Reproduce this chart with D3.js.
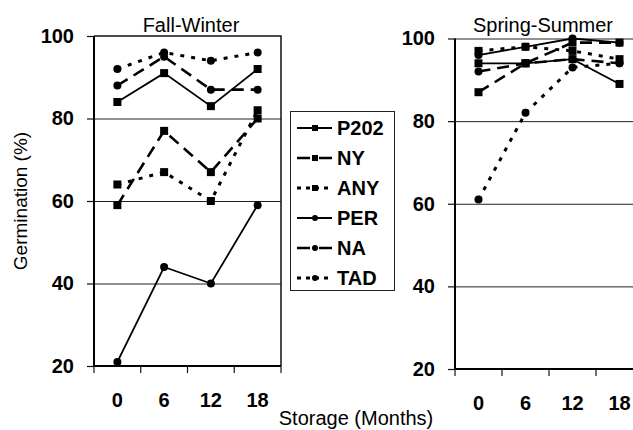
<!DOCTYPE html>
<html>
<head>
<meta charset="utf-8">
<script src="https://cdn.jsdelivr.net/npm/d3@7"></script>
<style>
  body { margin: 0; background: #fff; }
  svg { display: block; font-family: "Liberation Sans", Arial, sans-serif; }
  .tick text { font-weight: bold; font-size: 20px; fill: #000; }
  .domain { display: none; }
  .grid line { stroke: #222; stroke-width: 1; }
</style>
</head>
<body>
<svg id="chart" width="633" height="430"></svg>
<script>
// storage time categories (months)
var months = ["0", "6", "12", "18"];
var yTicks = [20, 40, 60, 80, 100];
var seriesNames = ["P202", "NY", "ANY", "PER", "NA", "TAD"];

// Fall-Winter germination (%)
var fallP202 = [84, 91, 83, 92];
var fallNY   = [59, 77, 67, 80];
var fallANY  = [64, 67, 60, 82];
var fallPER  = [21, 44, 40, 59];
var fallNA   = [88, 95, 87, 87];
var fallTAD  = [92, 96, 94, 96];

// Spring-Summer germination (%)
var springP202 = [94, 94, 95, 89];
var springNY   = [87, 94, 99, 99];
var springANY  = [97, 98, 97, 95];
var springPER  = [96, 98, 100, 99];
var springNA   = [92, 94, 95, 94];
var springTAD  = [61, 82, 93, 94];

// line look per series (legend uses its own dash so the sample reads like the original)
var styles = {
  P202: { marker: "square", dash: null,   legendDash: null,   width: 1.8 },
  NY:   { marker: "square", dash: "12,7", legendDash: "13,9", width: 2.6 },
  ANY:  { marker: "square", dash: "4,7",  legendDash: "4,5",  width: 3 },
  PER:  { marker: "circle", dash: null,   legendDash: null,   width: 1.8 },
  NA:   { marker: "circle", dash: "12,7", legendDash: "13,9", width: 2.6 },
  TAD:  { marker: "circle", dash: "4,7",  legendDash: "4,5",  width: 3 }
};

var svg = d3.select("#chart");

function drawMarker(g, kind, cx, cy, s) {
  if (kind == "square") {
    g.append("rect").attr("x", cx - s / 2).attr("y", cy - s / 2)
      .attr("width", s).attr("height", s).attr("fill", "#000");
  } else {
    g.append("circle").attr("cx", cx).attr("cy", cy).attr("r", s / 2).attr("fill", "#000");
  }
}

function drawPanel(p) {
  var x = d3.scaleBand().domain(months).range([p.left, p.right]);
  var y = d3.scaleLinear().domain([20, 100]).range([p.bottom, p.top]);
  var g = svg.append("g");

  // gridlines
  var gridVals = p.frame ? [40, 60, 80] : [40, 60, 80, 100];
  g.append("g").classed("grid", true)
    .attr("transform", "translate(" + p.left + ",0)")
    .call(d3.axisLeft(y).tickValues(gridVals).tickSize(-(p.right - p.left)).tickFormat(""));

  if (p.frame) {
    g.append("path")
      .attr("d", "M" + p.left + "," + y(100) + "H" + p.right + "V" + y(20))
      .attr("fill", "none").attr("stroke", "#111").attr("stroke-width", 1.5);
  }

  // y axis
  var ya = g.append("g").attr("transform", "translate(" + p.left + ",0)")
    .call(d3.axisLeft(y).tickValues(yTicks).tickSize(7).tickPadding(13));
  ya.selectAll(".tick line").attr("stroke", "#111").attr("stroke-width", 1.2);
  g.append("line").attr("x1", p.left).attr("x2", p.left)
    .attr("y1", y(100)).attr("y2", y(20)).attr("stroke", "#000").attr("stroke-width", 2);

  // x axis: labels at band centres, ticks at band edges
  g.append("g").attr("transform", "translate(0," + y(20) + ")")
    .call(d3.axisBottom(x).tickSize(0).tickPadding(27));
  g.append("line").attr("x1", p.left).attr("x2", p.right)
    .attr("y1", y(20)).attr("y2", y(20)).attr("stroke", "#000").attr("stroke-width", 2);
  var edges = months.map(function(m) { return x(m); }).concat([p.right]);
  g.selectAll(".xt").data(edges).enter().append("line")
    .attr("x1", function(d) { return d; }).attr("x2", function(d) { return d; })
    .attr("y1", y(20)).attr("y2", y(20) + 7)
    .attr("stroke", "#111").attr("stroke-width", 1.2);

  // title
  g.append("text").attr("x", p.titleX).attr("y", 32).attr("text-anchor", "middle")
    .attr("font-size", 20).text(p.title);

  // series
  var line = d3.line()
    .x(function(d, i) { return x(months[i]) + x.bandwidth() / 2; })
    .y(function(d) { return y(d); });
  seriesNames.forEach(function(name) {
    var st = styles[name];
    var vals = p.data[name];
    g.append("path").attr("d", line(vals))
      .attr("fill", "none").attr("stroke", "#000")
      .attr("stroke-width", st.width)
      .attr("stroke-dasharray", st.dash);
    vals.forEach(function(v, i) {
      drawMarker(g, st.marker, x(months[i]) + x.bandwidth() / 2, y(v), 8);
    });
  });
}

drawPanel({
  left: 94, right: 281, top: 36, bottom: 366, frame: true,
  title: "Fall-Winter", titleX: 191,
  data: { P202: fallP202, NY: fallNY, ANY: fallANY, PER: fallPER, NA: fallNA, TAD: fallTAD }
});

drawPanel({
  left: 455, right: 643, top: 38.5, bottom: 369, frame: false,
  title: "Spring-Summer", titleX: 543,
  data: { P202: springP202, NY: springNY, ANY: springANY, PER: springPER, NA: springNA, TAD: springTAD }
});

// axis titles
svg.append("text").attr("transform", "translate(27,201) rotate(-90)")
  .attr("text-anchor", "middle").attr("font-size", 19).text("Germination (%)");
svg.append("text").attr("x", 356).attr("y", 425).attr("text-anchor", "middle")
  .attr("font-size", 20).text("Storage (Months)");

// legend
var lg = svg.append("g");
lg.append("rect").attr("x", 290.5).attr("y", 111.5).attr("width", 104).attr("height", 179)
  .attr("fill", "#fff").attr("stroke", "#222").attr("stroke-width", 1);
seriesNames.forEach(function(name, i) {
  var st = styles[name];
  var cy = 128 + i * 30;
  lg.append("line").attr("x1", 297).attr("x2", 332).attr("y1", cy).attr("y2", cy)
    .attr("stroke", "#000").attr("stroke-width", st.width)
    .attr("stroke-dasharray", st.legendDash);
  drawMarker(lg, st.marker, 315, cy, 6);
  lg.append("text").attr("x", 337).attr("y", cy + 7).attr("font-weight", "bold")
    .attr("font-size", 20).text(name);
});
</script>
</body>
</html>
